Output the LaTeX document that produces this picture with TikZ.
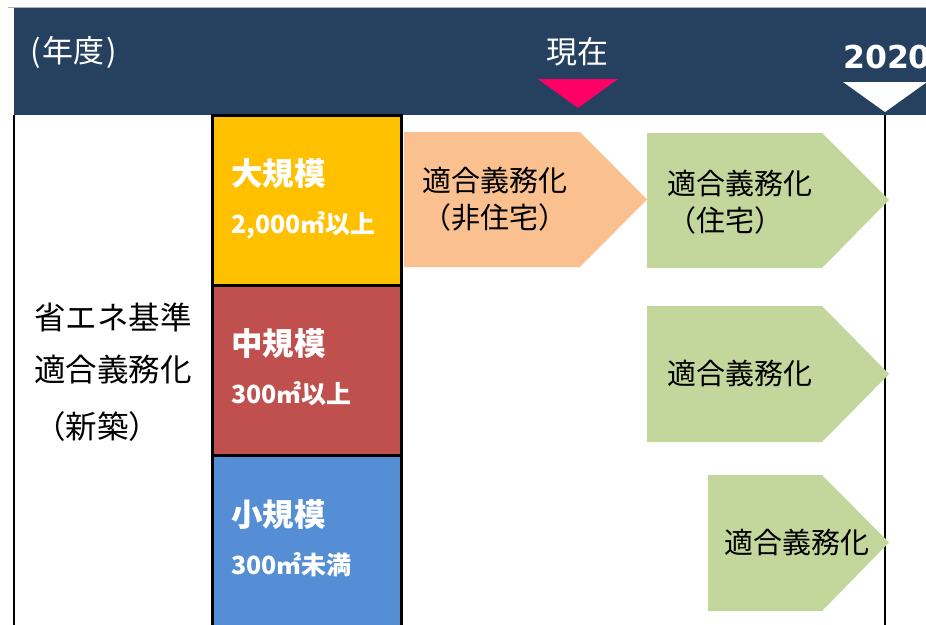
\documentclass[tikz,border=0pt]{standalone}
\usepackage{fontspec}
\setmainfont{Noto Sans CJK JP}
\newfontfamily\digitfont{DejaVu Sans}
\definecolor{hdr}{RGB}{38,64,96}
\definecolor{bigc}{RGB}{255,192,0}
\definecolor{midc}{RGB}{192,80,77}
\definecolor{smlc}{RGB}{85,142,213}
\definecolor{orgc}{RGB}{250,192,144}
\definecolor{grnc}{RGB}{195,214,155}
\definecolor{pinkc}{RGB}{255,0,102}
\newcommand{\fsz}[1]{\fontsize{#1}{#1}\selectfont}
\tikzset{
  txt/.style={inner sep=0pt, anchor=west, text=black, font=\fsz{29}},
  lefttxt/.style={inner sep=0pt, anchor=west, text=black, font=\fsz{31.5}},
  hdrtxt/.style={inner sep=0pt, text=white, font=\fsz{31}},
  boxttl/.style={inner sep=0pt, anchor=west, text=white, font=\bfseries\fsz{31.5}},
  boxsub/.style={inner sep=0pt, anchor=west, text=white, font=\bfseries\fsz{25}},
  sizebox/.style={draw=black, line width=3pt},
}
\begin{document}
\begin{tikzpicture}[x=1pt,y=-1pt]
\useasboundingbox (0,0) rectangle (926,624);
% header
\fill[hdr] (14,8) rectangle (926,115);
\draw[gray!60, line width=1pt] (8,7.5) -- (926,7.5);
\node[hdrtxt, anchor=west] (nendo) at (30,52) {(\kern2pt 年度\kern2pt)};
\node[hdrtxt] (genzai) at (577,52) {現在};
\node[hdrtxt, anchor=west, font=\digitfont\bfseries\fsz{31.5}] (y2020) at (843,57) {2020};
\fill[pinkc] (538,79) -- (618,79) -- (578,108) -- cycle;
\fill[white] (843,82) -- (927,82) -- (885,112) -- cycle;
% frame lines
\draw[black, line width=2pt] (14,115) -- (14,626);
\draw[black, line width=2pt] (885,115) -- (885,626);
% size boxes
\fill[bigc] (212,115) rectangle (401,285);
\fill[midc] (212,285) rectangle (401,455);
\fill[smlc] (212,455) rectangle (401,628);
\draw[sizebox] (212,115) rectangle (401,285);
\draw[sizebox] (212,285) rectangle (401,455);
\draw[sizebox] (212,455) rectangle (401,630);
\node[boxttl] (big) at (231,174) {大規模};
\node[boxsub] (bigs) at (231,225) {2,000㎡以上};
\node[boxttl] (mid) at (231,344) {中規模};
\node[boxsub] (mids) at (231,394) {300㎡以上};
\node[boxttl] (sml) at (231,515) {小規模};
\node[boxsub] (smls) at (231,565) {300㎡未満};
% left label
\node[lefttxt] (l1) at (34,317) {省エネ基準};
\node[lefttxt] (l2) at (34,370) {適合義務化};
\node[lefttxt] (l3) at (34,427) {（新築）};
% pentagons
\fill[orgc] (404,132) -- (580,132) -- (647,199.5) -- (580,267) -- (404,267) -- cycle;
\fill[grnc] (647,133) -- (822,133) -- (889,200) -- (822,268) -- (647,268) -- cycle;
\fill[grnc] (647,306) -- (822,306) -- (889,374) -- (822,442) -- (647,442) -- cycle;
\fill[grnc] (708,475) -- (822,475) -- (889,542.5) -- (822,611) -- (708,611) -- cycle;
\node[txt] (o1) at (422,180) {適合義務化};
\node[txt] (o2) at (422,217) {（非住宅）};
\node[txt] (g1) at (667,183) {適合義務化};
\node[txt] (g1b) at (667,220) {（住宅）};
\node[txt] (g2) at (667,373) {適合義務化};
\node[txt] (g3) at (724,542) {適合義務化};
\end{tikzpicture}
\end{document}
